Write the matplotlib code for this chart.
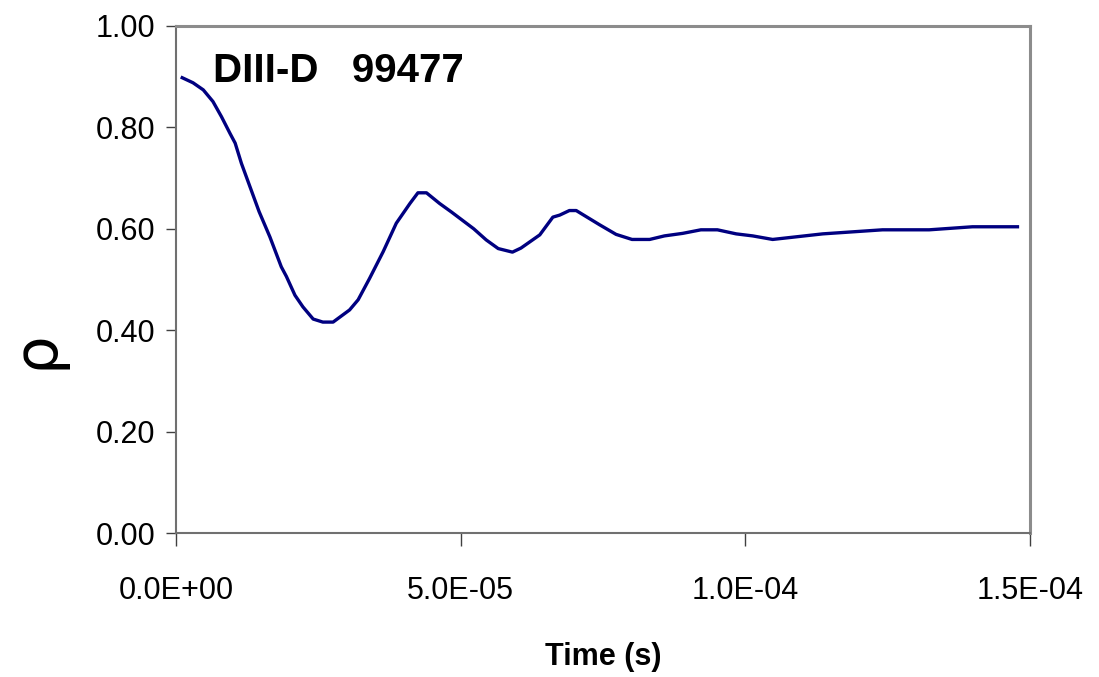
import matplotlib
matplotlib.use("Agg")
import matplotlib.pyplot as plt

plt.rcParams['font.family'] = ['Liberation Sans', 'DejaVu Sans']

# time in microseconds
time_us = [1.1, 3.0, 4.8, 6.5, 8.0, 9.5, 10.4, 11.5, 13.0, 14.6, 16.5, 18.5,
           19.4, 20.9, 22.3, 24.1, 25.8, 27.6, 30.5, 32.0, 34.0, 36.4, 38.7,
           41.1, 42.5, 44.0, 46.3, 48.4, 52.3, 54.5, 56.6, 59.1, 60.6, 63.9,
           66.2, 67.4, 69.1, 70.3, 74.4, 77.3, 80.1, 83.2, 85.8, 89.0, 92.2,
           95.1, 98.4, 101.3, 104.8, 113.6, 124.1, 132.3, 139.9, 147.8]
rho = [0.898, 0.888, 0.874, 0.851, 0.821, 0.788, 0.769, 0.729, 0.683, 0.634,
       0.584, 0.525, 0.506, 0.469, 0.446, 0.422, 0.416, 0.416, 0.440, 0.460,
       0.502, 0.555, 0.611, 0.650, 0.671, 0.671, 0.650, 0.633, 0.600, 0.578,
       0.561, 0.554, 0.562, 0.588, 0.623, 0.627, 0.636, 0.636, 0.608, 0.589,
       0.579, 0.579, 0.586, 0.591, 0.598, 0.598, 0.590, 0.586, 0.579, 0.590,
       0.598, 0.598, 0.604, 0.604]

x_ticks = [0.0, 5e-5, 1e-4, 1.5e-4]
x_labels = ["0.0E+00", "5.0E-05", "1.0E-04", "1.5E-04"]
y_ticks = [0.0, 0.2, 0.4, 0.6, 0.8, 1.0]
y_labels = ["0.00", "0.20", "0.40", "0.60", "0.80", "1.00"]

time_s = [t * 1e-6 for t in time_us]

fig = plt.figure(figsize=(10.99, 6.77), dpi=100)
ax = fig.add_axes([0.1601, 0.2127, 0.7771, 0.7489])

ax.plot(time_s, rho, color='#000080', linewidth=2.4)

ax.set_xlim(0, 1.5e-4)
ax.set_ylim(0, 1.0)
ax.set_xticks(x_ticks)
ax.set_xticklabels(x_labels)
ax.set_yticks(y_ticks)
ax.set_yticklabels(y_labels)

for side in ['left', 'bottom']:
    ax.spines[side].set_color('#707070')
    ax.spines[side].set_linewidth(1.5)
for side in ['top', 'right']:
    ax.spines[side].set_color('#8c8c8c')
    ax.spines[side].set_linewidth(2.2)

ax.tick_params(axis='x', direction='out', length=9, width=1, color='#404040',
               pad=22, labelsize=22)
ax.tick_params(axis='y', direction='out', length=7, width=1, color='#404040',
               pad=8, labelsize=22)

ax.set_xlabel("Time (s)", fontsize=22, fontweight='bold', labelpad=26)
fig.text(0.033, 0.483, "ρ", fontsize=44, rotation=90, ha='center', va='center',
         family=['DejaVu Sans'])

ax.text(0.0433, 0.890, "DIII-D   99477", transform=ax.transAxes,
        fontsize=29, fontweight='bold', va='baseline', ha='left')

fig.savefig("out.png", dpi=100)
